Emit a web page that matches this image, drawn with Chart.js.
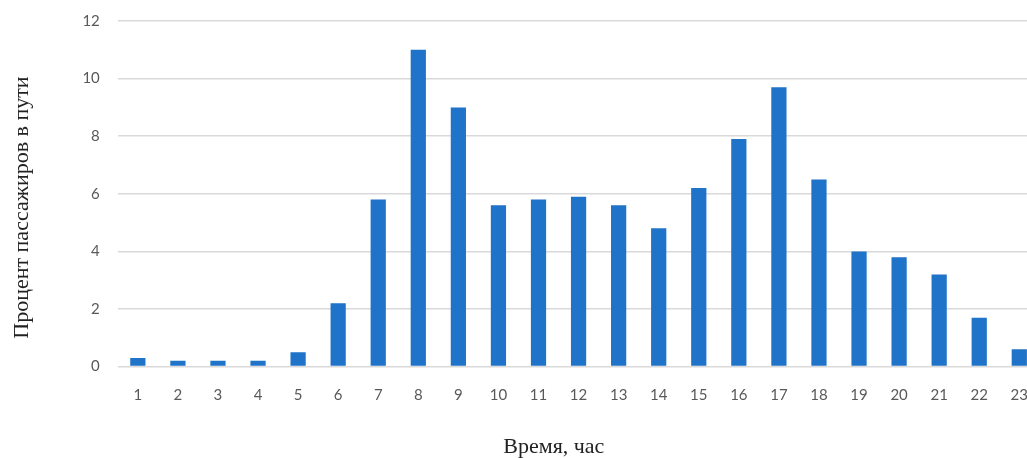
<!DOCTYPE html>
<html lang="ru">
<head>
    <meta charset="UTF-8">
    <title>Процент пассажиров в пути</title>
    <script src="https://cdn.jsdelivr.net/npm/chart.js"></script>
    <style>
        html, body {
            margin: 0;
            padding: 0;
            background: #fff;
            overflow: hidden;
        }
        #chartContainer {
            width: 1040px;
            height: 466px;
            margin-top: -6px;
        }
    </style>
</head>
<body>
    <div id="chartContainer">
        <canvas id="chartCanvas"></canvas>
    </div>

    <script>
        // часы суток
        const hours = ["1", "2", "3", "4", "5", "6", "7", "8", "9", "10", "11", "12",
                       "13", "14", "15", "16", "17", "18", "19", "20", "21", "22", "23"];
        // процент пассажиров в пути
        const percents = [0.3, 0.2, 0.2, 0.2, 0.5, 2.2, 5.8, 11.0, 9.0, 5.6, 5.8, 5.9,
                          5.6, 4.8, 6.2, 7.9, 9.7, 6.5, 4.0, 3.8, 3.2, 1.7, 0.6];
        const yTicks = [0, 2, 4, 6, 8, 10, 12];

        const tickFont = { family: "Lato, 'Open Sans', sans-serif", size: 15 };
        const titleFont = { family: "'Liberation Serif', 'DejaVu Serif', serif", size: 22 };

        // подписи осей сдвинуты неразрывными пробелами, как в исходнике
        const xTitle = "Время, час" + "\u00a0".repeat(9);
        const yTitle = "Процент пассажиров в пути" + "\u00a0".repeat(5);

        const ctx = document.getElementById("chartCanvas").getContext("2d");
        new Chart(ctx, {
            type: "bar",
            data: {
                labels: hours,
                datasets: [{
                    data: percents,
                    backgroundColor: "#1f73c8",
                    categoryPercentage: 1,
                    barPercentage: 0.38
                }]
            },
            options: {
                responsive: true,
                maintainAspectRatio: false,
                animation: false,
                layout: { padding: { left: 9, top: 5, right: 0, bottom: 0 } },
                plugins: {
                    legend: { display: false },
                    tooltip: { enabled: false }
                },
                scales: {
                    x: {
                        grid: { display: false },
                        border: { display: false },
                        ticks: { color: "#595959", font: tickFont, padding: 12, maxRotation: 0 },
                        title: {
                            display: true,
                            text: xTitle,
                            color: "#222",
                            font: titleFont,
                            padding: { top: 17, bottom: 0 }
                        }
                    },
                    y: {
                        min: 0,
                        max: 12,
                        afterBuildTicks: axis => { axis.ticks = yTicks.map(v => ({ value: v })); },
                        grid: { color: "#d9d9d9", lineWidth: 1.5, drawTicks: false },
                        border: { display: false },
                        ticks: { color: "#595959", font: tickFont, padding: 18 },
                        title: {
                            display: true,
                            text: yTitle,
                            color: "#222",
                            font: titleFont,
                            padding: { top: 0, bottom: 29 }
                        }
                    }
                }
            }
        });
    </script>
</body>
</html>
